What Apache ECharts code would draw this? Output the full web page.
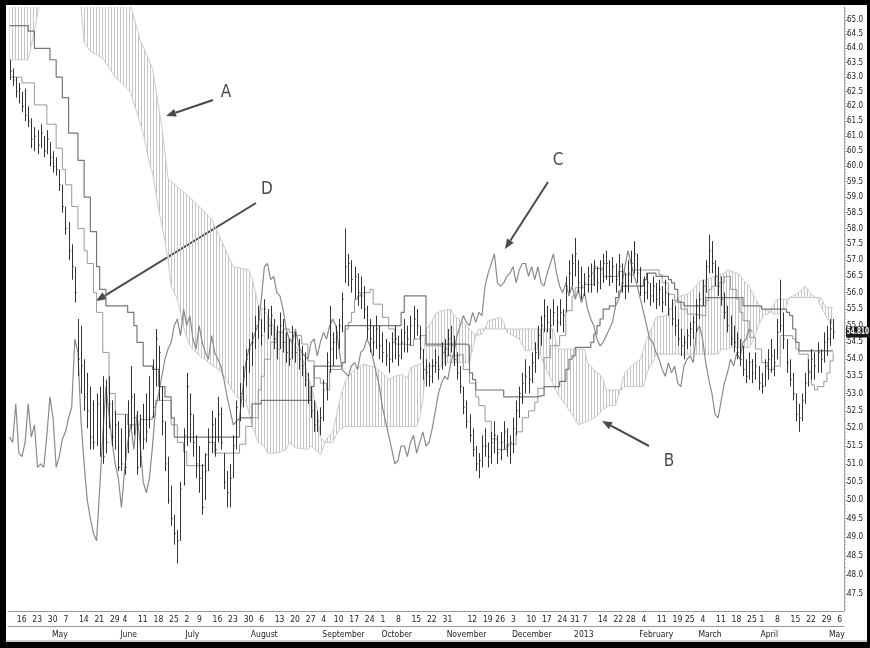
<!DOCTYPE html>
<html><head><meta charset="utf-8">
<script src="https://cdn.jsdelivr.net/npm/echarts@6/dist/echarts.min.js"></script>
<style>html,body{margin:0;padding:0;background:#fff}#c{width:870px;height:648px}</style>
</head><body><div id="c"></div>
<script>
// ---------- calendar ----------
const holidays = ['2012-05-28','2012-07-04','2012-09-03','2012-10-29','2012-10-30','2012-11-22','2012-12-25','2013-01-01','2013-01-21','2013-02-18','2013-03-29'];
const firstDay = '2012-04-12', lastDay = '2013-05-08';
const skippedWeekLabels = ['2012-11-05'];
const monthLabels = ['2013','February','March','April','May','June','July','August','September','October','November','December'];

// ---------- price (daily) ----------
const low = [62.9,62.7,62.3,62.1,61.8,61.5,61.3,60.6,60.5,60.4,60.6,60.3,60.4,60.0,59.8,59.7,59.2,58.5,57.8,57.0,56.4,55.7,53.5,53.0,52.5,52.0,
51.4,51.4,51.5,51.2,51.0,51.3,52.0,51.5,51.4,50.8,50.8,50.7,51.3,52.0,51.8,50.7,50.9,51.4,51.6,52.0,52.3,53.2,52.8,51.8,50.8,49.9,49.3,48.8,48.3,48.9,
50.4,51.5,51.6,51.2,50.6,50.2,49.6,50.0,50.8,51.3,51.2,51.6,51.4,50.3,49.8,49.8,50.6,51.4,52.2,52.6,53.2,53.6,53.8,54.3,54.6,54.4,54.8,54.6,54.7,54.3,
54.0,54.3,54.2,53.9,53.8,54.0,53.9,53.7,53.5,53.2,52.7,52.3,51.9,51.9,51.8,52.2,52.8,53.6,53.8,54.0,54.3,54.8,56.3,56.2,56.0,55.8,55.6,55.5,55.2,54.6,
54.2,54.1,54.3,54.0,53.9,53.8,53.6,53.9,54.0,53.8,54.0,54.2,54.2,54.4,54.6,54.7,54.0,53.4,53.2,53.2,53.3,53.6,53.4,53.7,53.8,54.1,54.2,53.8,53.4,53.0,
52.4,52.0,51.6,51.2,50.8,50.6,50.9,51.2,50.9,51.0,51.3,51.0,51.1,51.4,51.2,51.0,51.3,51.8,52.3,52.7,53.0,53.0,53.3,53.6,54.0,54.4,54.8,54.8,54.6,55.0,
54.8,55.0,54.8,55.4,56.0,56.2,56.5,56.0,55.8,55.9,56.0,56.0,56.2,56.0,56.1,56.3,56.4,56.2,56.3,56.0,56.2,56.0,55.8,56.0,56.3,56.6,56.3,55.9,55.7,55.8,
55.6,55.7,55.5,55.6,55.4,55.6,55.3,55.0,54.7,54.4,54.1,54.0,54.3,54.4,54.6,54.8,55.2,55.6,56.0,56.6,56.6,56.2,55.9,55.6,55.2,54.8,54.4,54.2,54.0,53.8,
53.5,53.3,53.4,53.3,53.4,53.1,53.0,53.2,53.4,53.6,53.5,54.0,54.8,54.3,53.6,53.2,52.8,52.2,51.9,52.2,52.7,53.2,53.4,53.4,53.6,53.6,53.9,54.1,54.4,54.6];
const high = [63.6,63.3,63.0,62.8,62.5,62.6,62.0,61.6,61.3,61.2,61.4,61.0,61.2,60.8,60.5,60.3,59.9,59.4,58.7,58.2,57.5,56.8,55.2,55.0,54.0,53.6,
53.2,52.8,53.0,53.2,53.5,53.4,53.5,52.8,52.5,52.2,52.0,52.4,52.8,53.8,53.0,52.5,52.4,52.7,53.0,53.5,54.0,54.9,54.4,53.2,52.2,51.2,50.4,49.6,49.2,50.5,
52.0,53.6,53.0,52.4,51.8,51.5,51.0,51.3,52.0,52.5,52.3,52.9,52.6,51.3,50.8,51.0,51.8,52.8,53.3,53.8,54.3,54.6,54.8,55.3,55.6,55.2,55.8,55.5,55.6,55.2,
55.0,55.4,55.2,54.8,54.6,55.0,54.8,54.6,54.4,54.2,53.6,53.2,52.8,52.5,52.6,53.4,54.2,55.6,54.8,55.0,55.2,56.0,58.0,57.2,57.0,56.8,56.6,56.5,56.2,55.6,
55.2,55.0,55.3,55.0,54.8,54.6,54.5,54.8,55.0,54.7,54.9,55.2,55.0,55.3,55.6,55.5,55.0,54.3,54.0,53.9,54.0,54.3,54.1,54.5,54.6,54.9,55.0,54.7,54.2,53.8,
53.2,52.8,52.4,52.0,51.5,51.3,51.8,52.0,51.6,51.9,52.2,51.8,51.9,52.2,52.0,51.8,52.3,52.8,53.2,53.6,54.0,53.8,54.2,54.5,55.0,55.3,55.8,55.6,55.5,55.8,
55.6,55.8,55.5,56.5,57.0,57.2,57.7,57.0,56.8,56.6,56.8,56.9,57.0,56.8,57.0,57.2,57.3,57.0,57.1,56.9,57.2,56.9,56.6,57.0,57.3,57.6,57.2,56.8,56.5,56.6,
56.3,56.5,56.3,56.4,56.2,56.4,56.0,55.8,55.6,55.2,54.9,54.7,54.9,55.1,55.3,55.8,56.0,56.4,57.0,57.8,57.6,57.0,56.8,56.5,56.0,55.6,55.3,55.0,54.8,54.6,
54.4,54.0,54.2,54.0,54.2,53.8,53.6,54.0,54.3,54.6,54.3,55.2,56.4,55.4,54.6,54.0,53.6,53.0,52.7,53.0,53.6,54.0,54.3,54.2,54.5,54.3,54.8,55.0,55.2,55.2];
const close = [63.2,62.9,62.5,62.6,62.0,61.7,61.5,60.9,61.0,60.7,61.1,60.5,60.9,60.3,60.0,59.9,59.4,58.7,58.0,57.3,56.8,56.0,54.0,53.8,52.9,52.5,
51.75,51.6,52.7,51.3,51.2,51.6,52.7,51.75,52.1,50.9,51.0,50.9,51.8,52.9,52.3,50.9,51.2,51.7,51.9,52.3,52.6,54.6,54.2,52.2,51.0,50.0,49.5,49.1,48.9,50.3,
51.8,53.2,52.4,51.6,51.0,50.6,49.8,50.8,51.6,52.1,51.4,52.4,51.6,50.5,50.2,50.6,51.5,52.6,53.0,53.5,54.0,54.3,54.5,55.0,55.2,54.7,55.5,55.0,55.3,54.6,
54.3,55.0,54.5,54.2,54.0,54.7,54.2,54.0,53.8,53.4,52.9,52.5,52.1,52.2,52.3,53.1,53.9,54.3,54.5,54.8,55.0,55.8,56.8,56.9,56.4,56.5,56.0,55.9,55.5,54.9,
54.6,54.5,54.9,54.4,54.2,54.1,54.0,54.5,54.6,54.1,54.5,54.8,54.6,55.0,55.2,55.0,54.3,53.7,53.6,53.5,53.8,53.9,53.7,54.2,54.3,54.6,54.4,54.0,53.6,53.2,
52.6,52.2,51.8,51.4,51.0,51.1,51.5,51.5,51.2,51.6,51.8,51.3,51.6,51.9,51.5,51.6,52.0,52.5,53.0,53.3,53.5,53.4,53.9,54.2,54.7,55.0,55.3,55.1,55.0,55.4,
55.1,55.4,55.3,56.2,56.6,56.9,57.2,56.3,56.2,56.3,56.5,56.6,56.8,56.3,56.7,56.9,56.9,56.5,56.8,56.4,56.8,56.3,56.2,56.6,56.9,57.2,56.6,56.2,56.0,56.3,
55.9,56.2,55.8,56.1,55.7,56.0,55.5,55.2,55.0,54.6,54.4,54.5,54.7,54.9,55.1,55.6,55.8,56.2,56.8,57.3,56.9,56.5,56.2,55.8,55.4,55.0,54.6,54.5,54.2,54.0,
53.7,53.5,53.9,53.6,53.8,53.3,53.2,53.8,54.0,54.1,53.9,54.8,55.0,54.6,53.9,53.4,53.0,52.4,52.3,52.8,53.3,53.6,54.0,53.8,54.2,54.0,54.5,54.6,54.9,54.81];

// ---------- Ichimoku lines: [trading-day index, value] ----------
const tenkan = [[0,63.0],[4,62.8],[8,62.05],[12,61.4],[15,60.6],[17,59.9],[18,59.4],[20,58.7],[22,58.0],[24,57.3],[25,56.9],[27,56.0],[28,55.4],[30,54.2],[32,53.0],[34,52.4],[38,52.1],[42,52.25],[46,52.35],[47,52.8],[52,52.1],[54,51.6],[56,51.35],[57,50.95],[63,51.25],[64,51.6],[66,51.3],[74,51.55],[76,52.05],[78,52.3],[80,53.1],[81,53.5],[82,54.0],[84,54.5],[86,54.8],[88,54.9],[90,54.8],[92,54.7],[94,54.45],[96,53.95],[98,53.45],[100,53.3],[102,53.1],[103,53.7],[107,53.9],[108,54.9],[109,55.1],[110,55.4],[111,55.8],[112,55.9],[113,56.0],[116,56.1],[117,55.65],[120,55.25],[122,54.9],[124,54.45],[127,54.4],[130,54.6],[132,54.7],[134,54.4],[139,54.35],[140,54.1],[144,54.15],[146,53.7],[148,53.3],[150,52.9],[151,52.65],[153,52.2],[155,51.7],[157,51.4],[160,51.55],[163,51.9],[165,52.3],[167,52.5],[169,52.75],[170,53.15],[172,54.05],[174,54.4],[177,54.7],[179,55.45],[181,55.9],[182,56.15],[185,56.25],[188,56.75],[191,56.5],[196,56.65],[198,56.55],[201,56.7],[209,56.55],[210,56.3],[212,55.95],[214,55.75],[216,55.5],[218,55.35],[220,55.3],[224,55.75],[225,56.1],[226,56.2],[228,56.3],[230,56.5],[232,56.1],[234,55.8],[235,55.4],[236,55.15],[238,54.65],[240,54.3],[242,53.9],[244,53.7],[246,53.8],[248,54.7],[252,54.6],[253,54.3],[254,54.15],[257,53.65],[258,53.25],[259,53.1],[260,53.2],[262,53.35],[263,53.6],[264,53.95],[265,54.2]];
const kijun = [[0,64.8],[6,64.6],[8,64.0],[13,63.6],[15,63.0],[17,62.3],[19,61.1],[22,60.2],[24,59.0],[26,57.9],[28,56.8],[29,56.1],[31,55.6],[38,55.4],[40,55.0],[41,54.5],[43,53.8],[46,53.7],[48,53.2],[50,52.9],[52,52.3],[53,51.75],[73,51.75],[74,52.3],[78,52.7],[81,52.8],[97,53.2],[98,53.8],[107,53.9],[108,55.0],[126,55.4],[127,55.9],[134,54.45],[147,54.4],[148,53.6],[149,53.4],[150,53.1],[159,52.9],[170,52.95],[172,53.2],[177,53.35],[179,53.7],[180,54.0],[181,54.1],[182,54.35],[187,54.5],[188,54.75],[189,55.0],[190,55.2],[191,55.5],[193,55.6],[195,55.85],[196,56.05],[197,56.2],[204,56.4],[205,56.6],[208,56.5],[212,56.4],[213,56.3],[214,56.1],[215,55.7],[217,55.6],[224,55.85],[236,55.6],[242,55.5],[250,55.4],[251,55.3],[252,54.9],[253,54.5],[254,54.25],[265,54.25]];
const senkouA = [[0,63.6],[6,63.6],[8,64.6],[11,66.5],[22,66.5],[23,65.5],[24,64.2],[26,63.9],[30,63.65],[34,63.0],[38,62.6],[39,62.45],[42,61.45],[43,61.1],[45,60.1],[46,59.8],[48,58.6],[50,57.6],[51,57.0],[52,56.2],[54,55.8],[56,54.95],[58,54.4],[60,54.2],[64,53.9],[68,53.65],[72,53.05],[73,52.9],[76,52.8],[78,52.1],[80,51.6],[82,51.5],[83,51.3],[86,51.3],[89,51.4],[90,51.6],[92,51.45],[96,51.4],[97,51.5],[99,51.35],[100,51.25],[102,51.7],[104,51.9],[106,52.7],[107,53.05],[108,53.35],[110,53.6],[112,53.75],[114,53.85],[116,53.8],[118,53.75],[120,53.6],[122,53.4],[124,53.5],[126,53.55],[128,53.45],[129,53.75],[133,53.9],[134,54.9],[135,55.0],[136,55.15],[137,55.35],[138,55.4],[139,55.45],[142,55.5],[143,55.3],[146,55.1],[148,54.9],[150,54.7],[152,54.75],[153,54.9],[154,55.15],[156,55.2],[158,55.25],[159,55.1],[160,54.8],[162,54.7],[164,54.6],[166,54.25],[170,54.3],[172,53.85],[174,53.45],[176,53.05],[177,52.9],[179,52.65],[181,52.4],[183,52.1],[186,52.2],[189,52.35],[191,52.55],[193,52.65],[195,52.65],[196,52.95],[198,53.6],[200,53.8],[203,54.0],[205,54.6],[207,55.0],[208,55.25],[211,55.3],[213,55.5],[214,55.75],[216,55.9],[218,55.95],[220,56.1],[222,56.35],[224,56.4],[227,56.5],[230,56.6],[231,56.7],[234,56.6],[235,56.55],[236,56.4],[238,56.2],[239,56.0],[240,55.8],[241,55.65],[242,55.5],[244,55.45],[246,55.35],[248,55.35],[250,55.6],[251,55.85],[252,55.9],[254,56.0],[256,56.2],[258,55.95],[260,55.8],[261,55.6],[262,55.4],[264,55.1],[265,55.0]];
const senkouB = [[0,66.5],[38,66.5],[39,65.5],[42,64.3],[46,63.3],[49,61.3],[51,59.6],[59,58.9],[65,58.3],[72,56.8],[77,56.7],[78,56.45],[79,56.05],[80,55.65],[81,55.55],[82,55.45],[84,55.15],[85,54.95],[86,54.85],[89,54.75],[91,54.55],[92,54.4],[93,54.3],[94,54.1],[95,53.85],[96,53.5],[97,53.25],[98,52.9],[99,52.55],[100,51.75],[101,51.65],[102,51.6],[104,51.6],[105,51.8],[106,51.95],[108,52.05],[131,52.05],[132,52.35],[133,52.8],[134,53.8],[139,53.8],[140,53.9],[148,53.9],[149,54.3],[150,54.7],[151,54.9],[175,54.9],[176,54.4],[177,54.3],[185,54.3],[186,53.9],[187,53.8],[188,53.7],[189,53.6],[190,53.55],[191,53.4],[192,53.1],[197,53.1],[198,53.2],[204,53.2],[205,53.55],[206,53.8],[207,53.9],[208,54.15],[228,54.15],[229,54.3],[231,54.3],[232,54.35],[238,54.35],[239,54.5],[240,54.75],[241,55.0],[242,55.2],[243,55.35],[244,55.35],[245,55.5],[246,55.65],[247,55.8],[250,55.8],[251,55.85],[261,55.85],[262,55.65],[263,55.55],[265,55.55]];
const laggingShift = 26;

// ---------- axis ticks ----------
const yLabelValues = [];
for (let v = 47.5; v <= 65.0001; v += 0.5) yLabelValues.push(+v.toFixed(1));
const yMinorValues = [];
for (let v = 47.1; v <= 65.4001; v += 0.1) yMinorValues.push(+v.toFixed(1));
const yMin = 47.06, yMax = 65.46;
const lastPrice = '54.810';

// ---------- build ----------
const dates = [];
(function(){
  const end = new Date(lastDay + 'T00:00:00Z');
  for (let d = new Date(firstDay + 'T00:00:00Z'); d <= end; d.setUTCDate(d.getUTCDate() + 1)) {
    const wd = d.getUTCDay(); const s = d.toISOString().slice(0, 10);
    if (wd === 0 || wd === 6 || holidays.includes(s)) continue;
    dates.push(s);
  }
})();
const weekStart = new Set(), monthStart = new Set();
for (let i = 1; i < dates.length; i++) {
  const a = new Date(dates[i-1] + 'T00:00:00Z'), b = new Date(dates[i] + 'T00:00:00Z');
  if (b.getUTCDay() <= a.getUTCDay() && !skippedWeekLabels.includes(dates[i])) weekStart.add(i);
  if (b.getUTCMonth() !== a.getUTCMonth()) monthStart.add(i);
}
const FONT = "'Liberation Sans Narrow','DejaVu Sans Condensed','Arial Narrow',sans-serif";

function hatch(color){
  const c = document.createElement('canvas'); c.width = 3; c.height = 4;
  const g = c.getContext('2d'); g.fillStyle = color; g.fillRect(0, 0, 1, 4); return c;
}
const cloudPattern = hatch('#c4c4c4');

function arrow(x1, y1, x2, y2){
  const ang = Math.atan2(y2 - y1, x2 - x1), L = 10, W = 4;
  const bx = x2 - L * Math.cos(ang), by = y2 - L * Math.sin(ang);
  const px = -Math.sin(ang) * W, py = Math.cos(ang) * W;
  return [
    {type:'line', shape:{x1, y1, x2:bx, y2:by}, style:{stroke:'#4a4a4a', lineWidth:2}},
    {type:'polygon', shape:{points:[[x2,y2],[bx+px,by+py],[bx-px,by-py]]}, style:{fill:'#4a4a4a'}}
  ];
}
function letter(t, x, y){
  return {type:'text', x, y, style:{text:t, fill:'#4a4a4a', font:"17px 'Liberation Sans Narrow','DejaVu Sans Condensed',sans-serif", align:'center', verticalAlign:'middle'}};
}

const priceData = low.map((l, i) => [i, l, high[i], close[i]]);
const laggingData = close.map((c, i) => [i - laggingShift, c]).filter(p => p[0] >= 0);

const chart = echarts.init(document.getElementById('c'));
chart.setOption({
  animation: false,
  backgroundColor: '#fff',
  grid: {left: 8, right: 26, top: 7, bottom: 37},
  xAxis: [{
    type: 'category', data: dates, boundaryGap: true, position: 'bottom',
    axisLine: {lineStyle: {color: '#9a9a9a'}},
    axisTick: {interval: i => weekStart.has(i), length: 15, lineStyle: {color: '#b0b0b0'}},
    axisLabel: {interval: i => weekStart.has(i), formatter: v => String(+v.slice(8)), align: 'left', fontSize: 8.5, margin: 4, color: '#222', fontFamily: FONT, padding:[0,0,0,1]},
    splitLine: {show: false}
  }, {
    type: 'category', data: dates, boundaryGap: true, position: 'bottom', offset: 15,
    axisLine: {lineStyle: {color: '#9a9a9a'}},
    axisTick: {interval: i => monthStart.has(i), length: 15, lineStyle: {color: '#b0b0b0'}},
    axisLabel: {interval: i => monthStart.has(i), formatter: v => monthLabels[+v.slice(5,7) - 1], align: 'left', fontSize: 8.5, margin: 4, color: '#222', fontFamily: FONT, padding:[0,0,0,2]},
    splitLine: {show: false}
  }],
  yAxis: [{
    type: 'log', logBase: 10, position: 'right', min: yMin, max: yMax,
    axisLine: {show: true, lineStyle: {color: '#9a9a9a'}},
    axisTick: {show: true, customValues: yLabelValues, length: 4, lineStyle: {color: '#8a8a8a'}},
    axisLabel: {customValues: yLabelValues, formatter: v => (+v).toFixed(1), fontSize: 8, color: '#222', margin: 3, fontFamily: FONT},
    splitLine: {show: false}
  }, {
    type: 'log', logBase: 10, position: 'right', min: yMin, max: yMax,
    axisLine: {show: false},
    axisTick: {show: true, customValues: yMinorValues, length: 2, lineStyle: {color: '#b0b0b0'}},
    axisLabel: {show: false}, splitLine: {show: false}
  }],
  series: [
    {
      type: 'custom', name: 'cloud', z: 1, silent: true,
      data: [[0, 55]],
      renderItem(params, api){
        const cs = params.coordSys;
        const a = senkouA.map(p => api.coord(p));
        const b = senkouB.map(p => api.coord(p)).reverse();
        return {type: 'polygon', shape: {points: a.concat(b)}, style: {fill: {image: cloudPattern, repeat: 'repeat'}},
          clipPath: {type: 'rect', shape: {x: cs.x, y: cs.y, width: cs.width, height: cs.height}}};
      }
    },
    {type: 'line', name: 'senkouA', data: senkouA, showSymbol: false, z: 2, lineStyle: {color: '#cbcbcb', width: 1}},
    {type: 'line', name: 'senkouB', data: senkouB, showSymbol: false, z: 2, lineStyle: {color: '#cbcbcb', width: 1}},
    {type: 'line', name: 'tenkan', data: tenkan, step: 'end', showSymbol: false, z: 3, lineStyle: {color: '#9a9a9a', width: 1}},
    {type: 'line', name: 'kijun', data: kijun, step: 'end', showSymbol: false, z: 3, lineStyle: {color: '#777', width: 1.2}},
    {type: 'line', name: 'lagging', data: laggingData, showSymbol: false, z: 3, lineStyle: {color: '#8a8a8a', width: 1.2}},
    {
      type: 'custom', name: 'price', z: 4,
      data: priceData, encode: {x: 0, y: [1, 2]},
      renderItem(params, api){
        const x = api.value(0);
        const pl = api.coord([x, api.value(1)]), ph = api.coord([x, api.value(2)]), pc = api.coord([x, api.value(3)]);
        const cx = Math.round(pl[0]) + 0.5;
        return {type: 'group', children: [
          {type: 'line', shape: {x1: cx, y1: ph[1], x2: cx, y2: pl[1]}, style: {stroke: '#333', lineWidth: 1}},
          {type: 'line', shape: {x1: cx, y1: pc[1], x2: cx + 1.2, y2: pc[1]}, style: {stroke: '#333', lineWidth: 1}}
        ]};
      }
    }
  ],
  graphic: [
    ...arrow(213, 100, 166, 116), letter('A', 226, 93),
    ...arrow(548, 182, 505, 249), letter('C', 558, 161),
    ...arrow(256, 203, 96, 301), letter('D', 267, 190),
    ...arrow(649, 446, 602, 421), letter('B', 669, 462),
    {type: 'line', shape: {x1: 6, y1: 641, x2: 867, y2: 641}, style: {stroke: '#9a9a9a', lineWidth: 1}},
    {type: 'rect', shape: {x: 0, y: 0, width: 6, height: 648}, style: {fill: '#000'}},
    {type: 'rect', shape: {x: 0, y: 0, width: 870, height: 5}, style: {fill: '#000'}},
    {type: 'rect', shape: {x: 867, y: 0, width: 3, height: 648}, style: {fill: '#000'}},
    {type: 'rect', shape: {x: 0, y: 642, width: 870, height: 6}, style: {fill: '#000'}}
  ]
});
// current-price tag on the value axis
const tagY = chart.convertToPixel({yAxisIndex: 0}, close[close.length - 1]);
chart.setOption({graphic: [{
  type: 'text', id: 'priceTag', x: 846, y: tagY, z: 100, scaleX: 0.8,
  style: {text: lastPrice, fill: '#fff', backgroundColor: '#1a1a1a', padding: [2, 1, 1, 1], font: "bold 8px 'Liberation Sans Narrow','DejaVu Sans Condensed',sans-serif", verticalAlign: 'middle', align: 'left'}
}]});
</script></body></html>
